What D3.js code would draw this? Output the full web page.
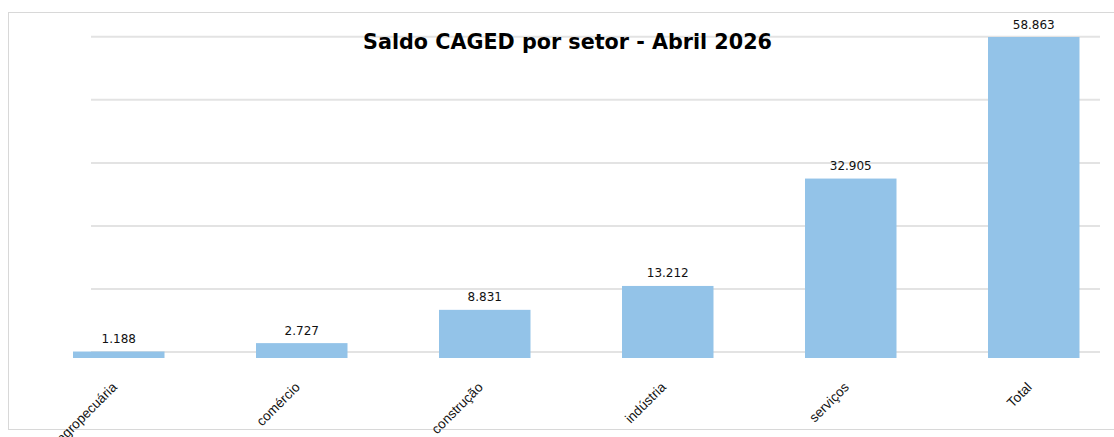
<!DOCTYPE html>
<html lang="pt">
<head>
<meta charset="UTF-8">
<title>Saldo CAGED por setor</title>
<script src="https://d3js.org/d3.v7.min.js"></script>
<style>
  body { margin: 0; background: #fff; }
</style>
</head>
<body>
<script>
  // data
  var setores = ["agropecuária", "comércio", "construção", "indústria", "serviços", "Total"];
  var saldos = [1188, 2727, 8831, 13212, 32905, 58863];
  var gridValues = [1100, 12660, 24220, 35780, 47340, 58900];
  var titulo = "Saldo CAGED por setor - Abril 2026";

  var width = 1114, height = 437;
  var fmt = d3.formatLocale({decimal: ",", thousands: ".", grouping: [3], currency: ["R$", ""]}).format(",d");

  var svg = d3.select("body").append("svg")
      .attr("width", width)
      .attr("height", height);

  svg.append("rect")
      .attr("width", width).attr("height", height)
      .attr("fill", "#fff");

  // frame
  svg.append("rect")
      .attr("x", 8.5).attr("y", 12.5)
      .attr("width", 1112).attr("height", 417)
      .attr("fill", "none")
      .attr("stroke", "#d8d8d8");

  var x = d3.scaleBand()
      .domain(setores)
      .range([27.25, 1125.25])
      .paddingInner(0.5)
      .paddingOuter(0.25);

  var y = d3.scaleLinear()
      .domain([0, 58863])
      .range([358, 37]);

  // gridlines
  svg.append("g").selectAll("line")
      .data(gridValues)
      .join("line")
      .attr("x1", 91).attr("x2", 1100)
      .attr("y1", d => y(d)).attr("y2", d => y(d))
      .attr("stroke", "#e3e3e3")
      .attr("stroke-width", 2);

  // bars
  svg.append("g").selectAll("rect")
      .data(saldos)
      .join("rect")
      .attr("x", (d, i) => x(setores[i]))
      .attr("width", x.bandwidth())
      .attr("y", d => y(d))
      .attr("height", d => y(0) - y(d))
      .attr("fill", "#93c3e8");

  // value labels
  svg.append("g").selectAll("text")
      .data(saldos)
      .join("text")
      .attr("x", (d, i) => x(setores[i]) + x.bandwidth() / 2)
      .attr("y", d => y(d) - 8.5)
      .attr("text-anchor", "middle")
      .style("font-family", "DejaVu Sans")
      .style("font-size", "12px")
      .attr("fill", "#111")
      .text(d => fmt(d));

  // category labels, rotated
  svg.append("g").selectAll("text")
      .data(setores)
      .join("text")
      .attr("transform", d => "translate(" + (x(d) + x.bandwidth() / 2 - 1) + ",388) rotate(-45)")
      .attr("text-anchor", "end")
      .style("font-family", "Liberation Sans")
      .style("font-size", "13.5px")
      .attr("fill", "#111")
      .text(d => d);

  // title
  svg.append("text")
      .attr("x", 567.5)
      .attr("y", 49)
      .attr("text-anchor", "middle")
      .style("font-family", "DejaVu Sans")
      .style("font-weight", "bold")
      .style("font-size", "20.7px")
      .attr("fill", "#000")
      .text(titulo);
</script>
</body>
</html>
